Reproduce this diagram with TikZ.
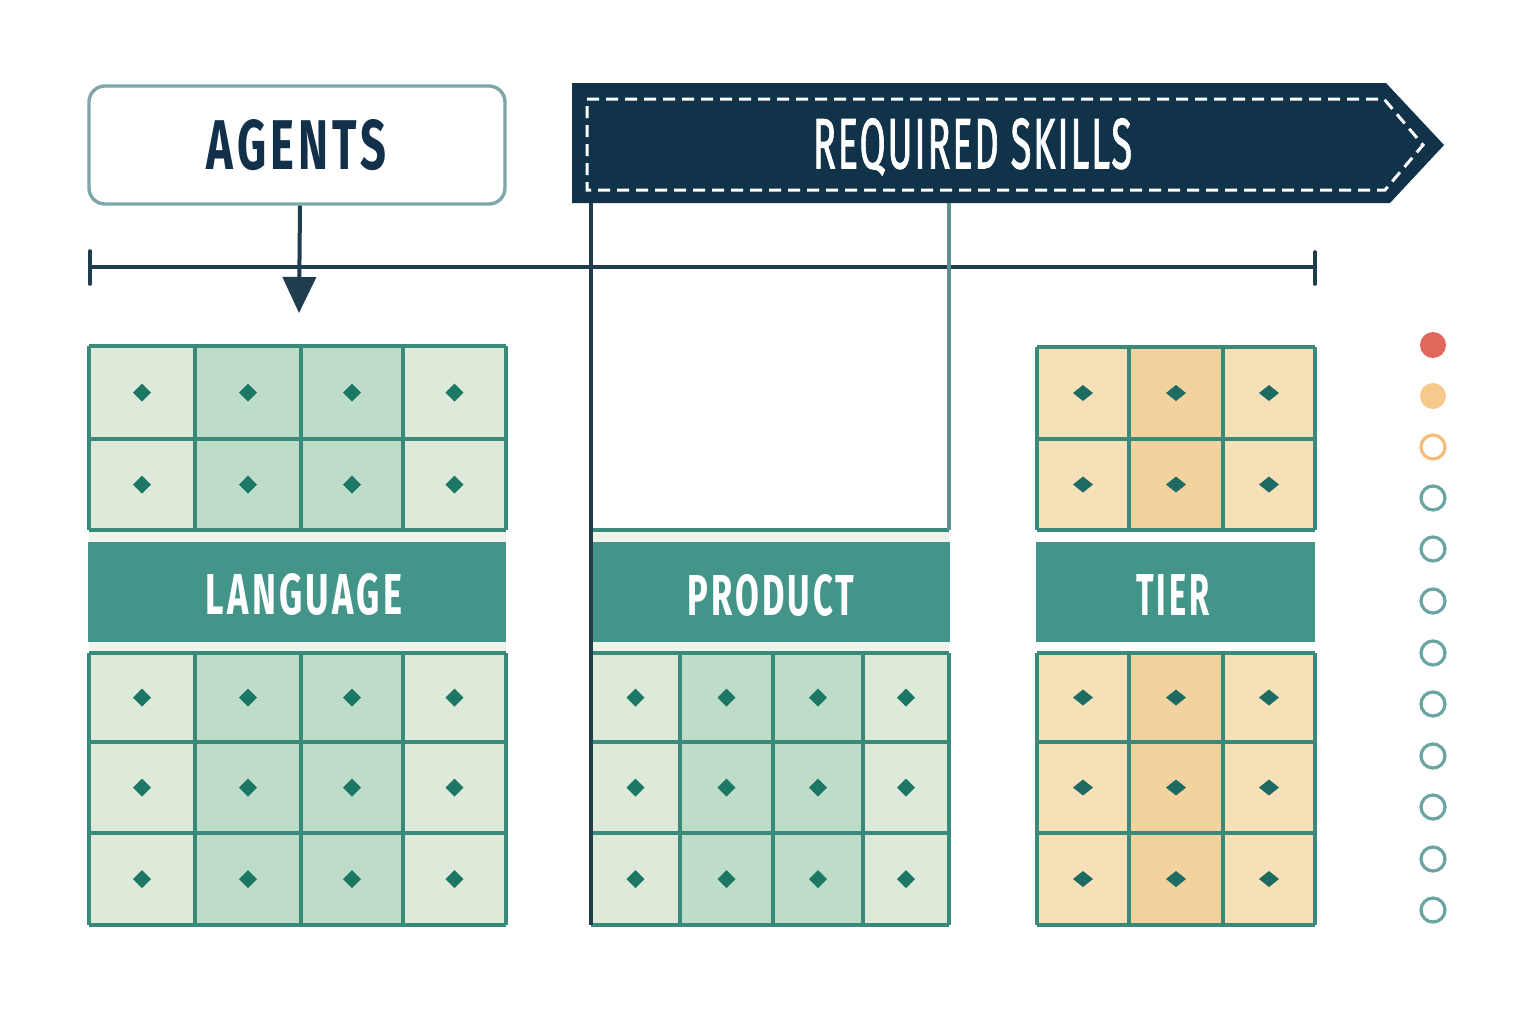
\documentclass[tikz,border=0pt]{standalone}
\usepackage{fontspec}
\usepackage{graphicx}
\usetikzlibrary{arrows.meta}
\newfontfamily\cond[LetterSpace=9]{Fira Sans}
\newfontfamily\condmed[LetterSpace=5,FakeBold=1.6]{Fira Sans}
\newcommand\fitlabel[3]{\resizebox{#1}{#2}{\cond\bfseries #3}}
\newcommand\fitmed[3]{\resizebox{#1}{#2}{\condmed #3}}
\definecolor{navy}{HTML}{10334A}
\definecolor{agborder}{HTML}{7FA6AA}
\definecolor{agtext}{HTML}{12304A}
\definecolor{linedark}{HTML}{1F3D4E}
\definecolor{gridline}{HTML}{3A8A7C}
\definecolor{gl}{HTML}{DDEADA}
\definecolor{gm}{HTML}{BEDDC8}
\definecolor{band}{HTML}{43958A}
\definecolor{stripe}{HTML}{EDF5EB}
\definecolor{tl}{HTML}{F5E0B8}
\definecolor{tm}{HTML}{F2D39F}
\definecolor{diag}{HTML}{1C7764}
\definecolor{diat}{HTML}{1E6B62}
\definecolor{dotred}{HTML}{E0675C}
\definecolor{dotpeach}{HTML}{F8C98D}
\definecolor{ringorange}{HTML}{F6BD7A}
\definecolor{ringteal}{HTML}{6BA5A2}
\definecolor{sidegray}{HTML}{5E8E8E}
\tikzset{
  gridstroke/.style={draw=gridline, line width=1.7pt},
  connector/.style={draw=linedark, line width=1.8pt},
  ring/.style={line width=1.6pt, fill=white},
}
\begin{document}
\begin{tikzpicture}[x=0.5pt,y=-0.5pt]
\useasboundingbox[fill=white] (0,0) rectangle (1521,1014);

% ---------- AGENTS box ----------
\node[draw=agborder, line width=1.7pt, rounded corners=8pt, fill=white,
      minimum width=208pt, minimum height=59pt, inner sep=0pt] (agents) at (297,145) {};
\node[text=agtext, inner sep=0pt] (agentstext) at (296.5,145) {\fitlabel{89.5pt}{25pt}{AGENTS}};

% ---------- REQUIRED SKILLS banner ----------
\fill[navy] (572,83) -- (1386,83) -- (1444,145) -- (1390,203) -- (572,203) -- cycle;
\draw[white, line width=1.5pt, dash pattern=on 6pt off 3.5pt]
  (587,99) -- (1384,99) -- (1423,145) -- (1385,190) -- (587,190) -- cycle;
\coordinate (skillsleft) at (591,203);
\coordinate (skillsright) at (949,203);
\node[text=white, inner sep=0pt] (skills) at (972.5,147) {\fitmed{159.5pt}{25pt}{REQUIRED SKILLS}};

% ---------- timeline ----------
\coordinate (tl0) at (90,267);
\coordinate (tl1) at (1315,267);
\draw[connector] (tl0) -- (tl1);
\draw[connector, line cap=round] (90,251) -- (90,284);
\draw[connector, line cap=round] (1315,252) -- (1315,284);

% ---------- agents arrow ----------
\coordinate (agentsarrow) at (299,313);
\draw[connector, line width=2pt, -{Triangle[width=16.5pt,length=18pt]}] (agents.south -| 300,0) -- (agentsarrow);

% ---------- LANGUAGE column ----------
\foreach \xa/\xb/\c in {89/195/gl,195/301/gm,301/403/gm,403/506/gl}{
  \foreach \ya/\yb in {346/439,439/530,653/742,742/833,833/925}{
    \fill[\c] (\xa,\ya) rectangle (\xb,\yb);
    \fill[diag, shift={({(\xa+\xb)/2},{(\ya+\yb)/2})}] (-9,0) -- (0,-9) -- (9,0) -- (0,9) -- cycle;
  }
}
\foreach \x in {89,195,301,403,506}{
  \draw[gridstroke] (\x,346) -- (\x,530);
  \draw[gridstroke] (\x,653) -- (\x,925);
}
\foreach \y in {346,439,530,653,742,833,925}{
  \draw[gridstroke] (89,\y) -- (506,\y);
}
\fill[stripe] (89,532) rectangle (506,542);
\fill[stripe] (89,642) rectangle (506,651);
\fill[band] (88,542) rectangle (506,642);
\node[text=white, inner sep=0pt] (language) at (304,594) {\fitlabel{98pt}{20.5pt}{LANGUAGE}};

% ---------- PRODUCT column ----------
\foreach \xa/\xb/\c in {591/680/gl,680/773/gm,773/863/gm,863/949/gl}{
  \foreach \ya/\yb in {653/742,742/833,833/925}{
    \fill[\c] (\xa,\ya) rectangle (\xb,\yb);
    \fill[diag, shift={({(\xa+\xb)/2},{(\ya+\yb)/2})}] (-9,0) -- (0,-9) -- (9,0) -- (0,9) -- cycle;
  }
}
\foreach \x in {680,773,863}{
  \draw[gridstroke] (\x,653) -- (\x,925);
}
\draw[gridstroke] (949,653) -- (949,925);
\foreach \y in {653,742,833,925}{
  \draw[gridstroke] (591,\y) -- (949,\y);
}
\draw[gridstroke] (591,530) -- (949,530);
\fill[stripe] (591,532) rectangle (949,542);
\fill[stripe] (591,642) rectangle (949,651);
\fill[band] (591,542) rectangle (950,642);
\coordinate (prodbottomleft) at (591,925);
\coordinate (prodtopright) at (949,530);
\draw[connector] (skillsleft) -- (prodbottomleft);
\draw[draw=sidegray, line width=1.6pt] (skillsright) -- (prodtopright);
\node[text=white, inner sep=0pt] (product) at (771,595) {\fitlabel{83.5pt}{20.5pt}{PRODUCT}};

% ---------- TIER column ----------
\foreach \xa/\xb/\c in {1037/1129/tl,1129/1223/tm,1223/1315/tl}{
  \foreach \ya/\yb in {347/439,439/530,653/742,742/833,833/925}{
    \fill[\c] (\xa,\ya) rectangle (\xb,\yb);
    \fill[diat, shift={({(\xa+\xb)/2},{(\ya+\yb)/2})}] (-10,0) -- (0,-8) -- (10,0) -- (0,8) -- cycle;
  }
}
\foreach \x in {1037,1129,1223,1315}{
  \draw[gridstroke] (\x,347) -- (\x,530);
  \draw[gridstroke] (\x,653) -- (\x,925);
}
\foreach \y in {347,439,530,653,742,833,925}{
  \draw[gridstroke] (1037,\y) -- (1315,\y);
}
\fill[white] (1039,532) rectangle (1314,542);
\fill[white] (1039,642) rectangle (1314,651);
\fill[band] (1036,542) rectangle (1315,642);
\node[text=white, inner sep=0pt] (tier) at (1173,595) {\fitlabel{36.5pt}{20.5pt}{TIER}};

% ---------- dots ----------
\fill[dotred] (1433,345) circle (13);
\fill[dotpeach] (1433,396) circle (13);
\draw[ring, draw=ringorange] (1433,447) circle (12);
\foreach \y in {498,549,601,653,704,756,807,859,910}{
  \draw[ring, draw=ringteal] (1433,\y) circle (12);
}
\end{tikzpicture}
\end{document}
